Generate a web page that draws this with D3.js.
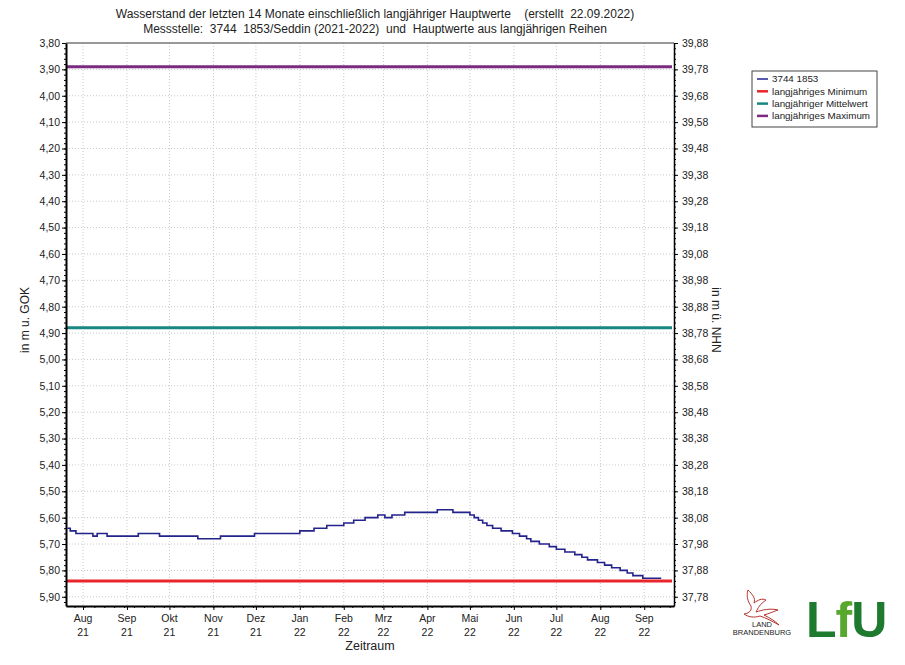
<!DOCTYPE html>
<html>
<head>
<meta charset="utf-8">
<script src="https://cdn.jsdelivr.net/npm/d3@7"></script>
<style>
  body { margin: 0; background: #fff; }
  text { font-family: "Liberation Sans", Arial, sans-serif; fill: #222; }
  .grid line { stroke: #c9c9c9; stroke-dasharray: 1,2; }
  .axis path, .axis line { stroke: #000; }
</style>
</head>
<body>
<script>
//chart values
var titleLines = ["Wasserstand der letzten 14 Monate einschließlich langjähriger Hauptwerte    (erstellt  22.09.2022)",
                  "Messstelle:  3744  1853/Seddin (2021-2022)  und  Hauptwerte aus langjährigen Reihen"];

var seriesDates = ["2021-07-21","2021-07-23","2021-07-27","2021-08-08","2021-08-11","2021-08-18",
    "2021-09-09","2021-09-24","2021-10-21","2021-11-06","2021-11-30","2022-01-01","2022-01-11",
    "2022-01-20","2022-02-01","2022-02-08","2022-02-16","2022-02-25","2022-03-02","2022-03-07",
    "2022-03-16","2022-04-08","2022-04-19","2022-05-01","2022-05-04","2022-05-07","2022-05-10",
    "2022-05-13","2022-05-17","2022-05-23","2022-05-31","2022-06-05","2022-06-10","2022-06-13",
    "2022-06-19","2022-06-26","2022-07-01","2022-07-07","2022-07-14","2022-07-19","2022-07-23",
    "2022-07-30","2022-08-04","2022-08-09","2022-08-15","2022-08-20","2022-08-24","2022-08-31",
    "2022-09-13"];
var seriesValues = [5.64,5.65,5.66,5.67,5.66,5.67,
    5.66,5.67,5.68,5.67,5.66,5.65,5.64,
    5.63,5.62,5.61,5.60,5.59,5.60,5.59,
    5.58,5.57,5.58,5.59,5.60,5.61,5.62,
    5.63,5.64,5.65,5.66,5.67,5.68,5.69,
    5.70,5.71,5.72,5.73,5.74,5.75,5.76,
    5.77,5.78,5.79,5.80,5.81,5.82,5.83,
    5.83];

var refNames = ["langjähriges Minimum", "langjähriger Mittelwert", "langjähriges Maximum"];
var refValues = [5.84, 4.88, 3.89];

var leftTicks = [3.80,3.90,4.00,4.10,4.20,4.30,4.40,4.50,4.60,4.70,4.80,4.90,5.00,
                 5.10,5.20,5.30,5.40,5.50,5.60,5.70,5.80,5.90];
var rightTicks = [39.88,39.78,39.68,39.58,39.48,39.38,39.28,39.18,39.08,38.98,38.88,38.78,
                  38.68,38.58,38.48,38.38,38.28,38.18,38.08,37.98,37.88,37.78];
var monthDates = ["2021-08-01","2021-09-01","2021-10-01","2021-11-01","2021-12-01","2022-01-01",
    "2022-02-01","2022-03-01","2022-04-01","2022-05-01","2022-06-01","2022-07-01","2022-08-01","2022-09-01"];
var monthNames = ["Aug","Sep","Okt","Nov","Dez","Jan","Feb","Mrz","Apr","Mai","Jun","Jul","Aug","Sep"];
var monthYears = ["21","21","21","21","21","22","22","22","22","22","22","22","22","22"];

var legendNames = ["3744 1853", "langjähriges Minimum", "langjähriger Mittelwert", "langjähriges Maximum"];
var legendColors = ["#23238c", "#e8252b", "#17877f", "#7a2a80"];

//frame
var width = 905, height = 665;
var plotL = 66, plotR = 674, plotT = 43, plotB = 606;
var nhnOffset = 43.68; //GOK -> NHN

var parse = d3.timeParse("%Y-%m-%d");

var svg = d3.select("body").append("svg")
    .attr("width", width)
    .attr("height", height);

var x = d3.scaleTime()
    .domain([parse("2021-07-20"), parse("2022-09-22")])
    .range([plotL, plotR]);

var y = d3.scaleLinear()
    .domain([3.80, 5.935])
    .range([plotT, plotB]);

var yR = d3.scaleLinear()
    .domain([nhnOffset - 3.80, nhnOffset - 5.935])
    .range([plotT, plotB]);

var fmt = function(d) { return d3.format(".2f")(d).replace(".", ","); };

//grid
svg.append("g").attr("class", "grid")
    .selectAll("line").data(leftTicks.slice(1)).enter().append("line")
    .attr("x1", plotL).attr("x2", plotR)
    .attr("y1", function(d) { return y(d); }).attr("y2", function(d) { return y(d); });

svg.append("g").attr("class", "grid")
    .selectAll("line").data(monthDates).enter().append("line")
    .attr("x1", function(d) { return x(parse(d)); }).attr("x2", function(d) { return x(parse(d)); })
    .attr("y1", plotT).attr("y2", plotB);

//reference lines (min, mean, max)
svg.append("g").selectAll("line").data(refValues).enter().append("line")
    .attr("x1", plotL + 1).attr("x2", plotR - 2)
    .attr("y1", function(d) { return y(d); }).attr("y2", function(d) { return y(d); })
    .attr("stroke", function(d, i) { return legendColors[i + 1]; })
    .attr("stroke-width", 3);

//series
var pts = seriesDates.map(function(d, i) { return [parse(d), seriesValues[i]]; });
var line = d3.line()
    .x(function(d) { return x(d[0]); })
    .y(function(d) { return y(d[1]); })
    .curve(d3.curveStepAfter);

svg.append("path")
    .datum(pts)
    .attr("d", line)
    .attr("fill", "none")
    .attr("stroke", legendColors[0])
    .attr("stroke-width", 1.6);

//top frame line
svg.append("line").attr("x1", plotL).attr("x2", plotR).attr("y1", plotT).attr("y2", plotT)
    .attr("stroke", "#777").attr("stroke-width", 1.5);

//left axis
var minorVals = d3.range(0, 107).map(function(i) { return 3.80 + i * 0.02; })
    .filter(function(v) { return v <= 5.935; });

var leftAxis = svg.append("g").attr("class", "axis")
    .attr("transform", "translate(" + plotL + ",0)")
    .call(d3.axisLeft(y).tickValues(leftTicks).tickFormat(fmt).tickSize(4).tickSizeOuter(0));
leftAxis.select(".domain").attr("stroke-width", 2);
leftAxis.selectAll("text").attr("font-size", 10.5).attr("x", -6);

svg.append("g").attr("class", "axis")
    .attr("transform", "translate(" + plotL + ",0)")
    .call(d3.axisLeft(y).tickValues(minorVals).tickFormat("").tickSize(2).tickSizeOuter(0))
    .select(".domain").remove();

//right axis
var rightAxis = svg.append("g").attr("class", "axis")
    .attr("transform", "translate(" + plotR + ",0)")
    .call(d3.axisRight(yR).tickValues(rightTicks).tickFormat(fmt).tickSize(4).tickSizeOuter(0));
rightAxis.select(".domain").attr("stroke-width", 1.5);
rightAxis.selectAll("text").attr("font-size", 10.5).attr("x", 8);

svg.append("g").attr("class", "axis")
    .attr("transform", "translate(" + plotR + ",0)")
    .call(d3.axisRight(y).tickValues(minorVals).tickFormat("").tickSize(2).tickSizeOuter(0))
    .select(".domain").remove();

//bottom axis
var bottomAxis = svg.append("g").attr("class", "axis")
    .attr("transform", "translate(0," + plotB + ")")
    .call(d3.axisBottom(x).tickValues(monthDates.map(parse)).tickFormat("").tickSize(4).tickSizeOuter(0));
bottomAxis.select(".domain").attr("stroke-width", 2);

svg.append("g").attr("class", "axis")
    .attr("transform", "translate(0," + plotB + ")")
    .call(d3.axisBottom(x).ticks(d3.timeMonday.every(1)).tickFormat("").tickSize(2).tickSizeOuter(0))
    .select(".domain").remove();

var monthLabels = svg.append("g").selectAll("text").data(monthDates).enter().append("text")
    .attr("text-anchor", "middle")
    .attr("font-size", 10.5)
    .attr("x", function(d) { return x(parse(d)); })
    .attr("y", 622);
monthLabels.append("tspan").text(function(d, i) { return monthNames[i]; });
monthLabels.append("tspan")
    .attr("x", function(d) { return x(parse(d)); })
    .attr("dy", 14)
    .text(function(d, i) { return monthYears[i]; });

//titles
svg.selectAll(".title").data(titleLines).enter().append("text")
    .attr("class", "title")
    .attr("x", 375)
    .attr("y", function(d, i) { return 18 + i * 15; })
    .attr("text-anchor", "middle")
    .attr("font-size", 12)
    .style("white-space", "pre")
    .text(function(d) { return d; });

svg.append("text")
    .attr("x", 370).attr("y", 650)
    .attr("text-anchor", "middle")
    .attr("font-size", 12.5)
    .text("Zeitraum");

svg.append("text")
    .attr("transform", "translate(29,320) rotate(-90)")
    .attr("text-anchor", "middle")
    .attr("font-size", 12)
    .text("in m u. GOK");

svg.append("text")
    .attr("transform", "translate(712,320) rotate(90)")
    .attr("text-anchor", "middle")
    .attr("font-size", 12)
    .text("in m ü. NHN");

//legend
var legend = svg.append("g").attr("transform", "translate(752,71)");
legend.append("rect")
    .attr("width", 125).attr("height", 56)
    .attr("fill", "#fff").attr("stroke", "#444").attr("stroke-width", 1);
var items = legend.selectAll(".item").data(legendNames).enter().append("g")
    .attr("transform", function(d, i) { return "translate(0," + (8 + i * 12.3) + ")"; });
items.append("line")
    .attr("x1", 5).attr("x2", 16)
    .attr("stroke", function(d, i) { return legendColors[i]; })
    .attr("stroke-width", function(d, i) { return i == 0 ? 1.5 : 2.5; });
items.append("text")
    .attr("x", 20).attr("dy", "0.35em")
    .attr("font-size", 9.8)
    .text(function(d) { return d; });

//logos
var logo = svg.append("g");
logo.append("path")
    .attr("d", "M748,590 C752,594 756,598 754,603 C758,600 762,598 766,600 C760,604 758,608 756,612 C762,610 770,608 778,610 C772,612 768,614 764,615 C770,618 775,621 779,625 C772,621 766,618 760,616 C754,618 748,617 744,614 C750,613 752,610 751,606 C748,602 746,596 748,590 Z")
    .attr("fill", "none").attr("stroke", "#b8332e").attr("stroke-width", 1);
logo.append("text").attr("x", 762).attr("y", 627).attr("text-anchor", "middle")
    .attr("font-size", 7.5).attr("fill", "#444").text("LAND");
logo.append("text").attr("x", 762).attr("y", 635).attr("text-anchor", "middle")
    .attr("font-size", 7.5).attr("fill", "#444").text("BRANDENBURG");

var lfu = logo.append("text").attr("x", 806).attr("y", 637)
    .attr("font-size", 50).attr("font-weight", "bold")
    .attr("letter-spacing", -1);
lfu.append("tspan").attr("fill", "#1d7a2e").text("L");
lfu.append("tspan").attr("fill", "#58a82f").text("f");
lfu.append("tspan").attr("fill", "#1d7a2e").text("U");
</script>
</body>
</html>
